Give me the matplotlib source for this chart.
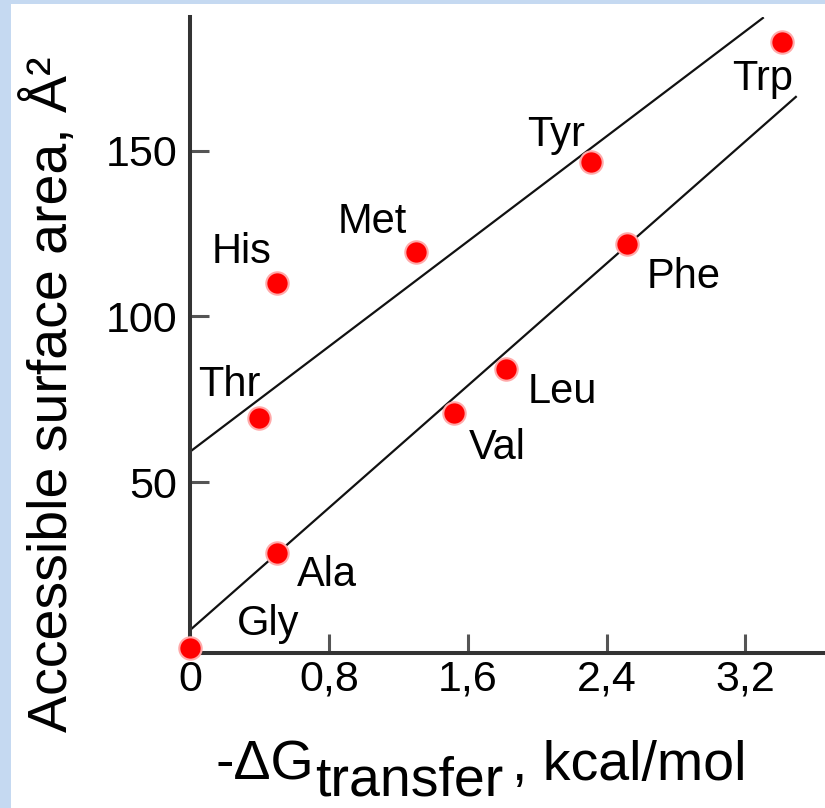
import matplotlib.pyplot as plt
from matplotlib.patches import Rectangle

plt.rcParams['font.family'] = ['Liberation Sans', 'DejaVu Sans']

# 数据
amino = ['Gly', 'Ala', 'Thr', 'His', 'Met', 'Val', 'Leu', 'Tyr', 'Phe', 'Trp']
dg_transfer = [0.0, 0.50, 0.40, 0.50, 1.30, 1.52, 1.82, 2.31, 2.52, 3.41]
surface_area = [0.0, 28.7, 69.3, 110.0, 119.5, 70.8, 84.2, 146.7, 121.8, 182.9]

# 两条拟合直线
upper_x = [0.0, 3.30]
upper_y = [59.2, 190.0]
lower_x = [0.0, 3.49]
lower_y = [5.4, 166.2]

x_ticks = [0, 0.8, 1.6, 2.4, 3.2]
x_tick_labels = ['0', '0,8', '1,6', '2,4', '3,2']
y_ticks = [50, 100, 150]
y_tick_labels = ['50', '100', '150']

# 标签偏移 (像素)
label_offsets = {
    'Gly': (47, 13), 'Ala': (20, -33), 'Thr': (-61, 22), 'His': (-65, 20),
    'Met': (-78, 19), 'Val': (15, -46), 'Leu': (22, -34), 'Tyr': (-64, 16),
    'Phe': (19, -44), 'Trp': (-50, -48),
}

W, H = 825, 808
fig = plt.figure(figsize=(W / 100, H / 100), dpi=100, facecolor='#C5D9F1')
fig.patches.append(Rectangle((11 / W, 0), 1, (H - 4) / H, transform=fig.transFigure,
                             facecolor='white', edgecolor='none', zorder=-5))

ax = fig.add_axes([190 / W, (H - 653) / H, 635 / W, 636 / H])
ax.set_facecolor('none')
ax.set_xlim(0, 3.658)
ax.set_ylim(-1.5, 190.3)

for s in ['top', 'right']:
    ax.spines[s].set_visible(False)
for s in ['left', 'bottom']:
    ax.spines[s].set_color('#333333')
    ax.spines[s].set_linewidth(2.9)

ax.plot(upper_x, upper_y, color='#111111', lw=1.6, zorder=2)
ax.plot(lower_x, lower_y, color='#111111', lw=1.6, zorder=2)
ax.scatter(dg_transfer, surface_area, s=260, color='#ff0000', edgecolors='#ffaaaa',
           linewidths=1.5, zorder=3, clip_on=False)

for name, a, b in zip(amino, dg_transfer, surface_area):
    dx, dy = label_offsets[name]
    ax.annotate(name, (a, b), xytext=(dx, dy), textcoords='offset pixels',
                ha='left', va='baseline', fontsize=30, color='black')

ax.set_xticks(x_ticks)
ax.set_xticklabels(x_tick_labels)
ax.set_yticks(y_ticks)
ax.set_yticklabels(y_tick_labels)
ax.tick_params(axis='both', direction='in', length=14, width=2.2, color='#555555',
               labelsize=31, labelcolor='black')
ax.tick_params(axis='x', pad=5)
ax.tick_params(axis='y', pad=9)

# 坐标轴标题
fig.text(67 / W, (H - 394) / H, 'Accessible surface area, Å²', rotation=90,
         rotation_mode='anchor', ha='center', va='baseline', fontsize=40)
fig.text(215 / W, (H - 780) / H, '-ΔG', ha='left', va='baseline', fontsize=40)
fig.text(315 / W, 0.001, 'transfer', ha='left', va='bottom', fontsize=40)
fig.text(512 / W, (H - 780) / H, ', kcal/mol', ha='left', va='baseline', fontsize=40)

plt.savefig('out.png', dpi=100, facecolor=fig.get_facecolor())
